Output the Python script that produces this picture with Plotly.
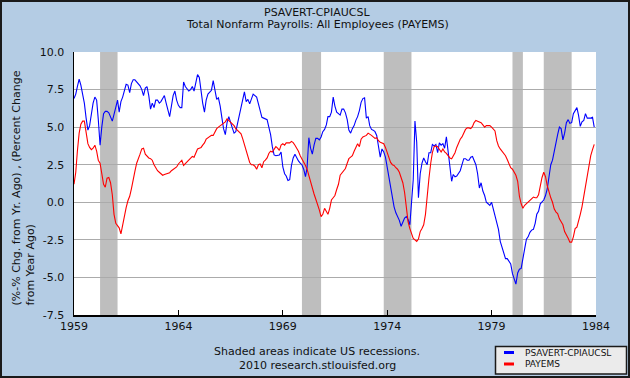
import plotly.graph_objects as go
import pandas as pd

# ---------------- data (monthly, Jan 1959 .. Dec 1983) ----------------
start_month = "1959-01-01"

psavert_cpiaucsl = [
    6.9, 7.2, 7.7, 8.2, 7.8, 7.3, 6.6, 5.6, 4.8, 5.1,
    5.9, 6.6, 7.0, 6.8, 5.5, 3.8, 5.0, 5.9, 6.05, 6.05,
    5.95, 5.7, 5.4, 5.85, 6.4, 6.8, 6.0, 6.7, 7.0, 7.5,
    7.85, 7.8, 7.3, 7.9, 8.15, 8.15, 8.0, 7.85, 7.75, 7.5,
    7.1, 7.6, 7.7, 7.1, 6.2, 6.6, 6.3, 6.8, 6.8, 6.6,
    6.7, 6.9, 7.1, 6.6, 6.1, 5.7, 6.4, 7.1, 7.4, 6.8,
    6.45, 6.3, 6.3, 8.0, 7.7, 7.5, 7.4, 7.5, 7.7, 7.4,
    7.9, 8.5, 8.3, 7.2, 6.6, 6.0, 6.8, 7.2,
    7.3, 7.45, 8.1, 7.5, 6.85, 6.95, 6.4, 5.6, 4.9, 4.5, 5.3, 5.7,
    5.25, 4.95, 4.6, 4.7, 5.25, 5.8, 6.35, 7.0, 7.35, 6.7,
    6.85, 6.55, 6.95, 7.2, 7.1, 7.0, 6.55, 6.1, 5.65, 5.6,
    5.55, 5.5, 5.0, 4.5, 3.7, 3.15, 3.1, 3.1, 3.15, 3.35,
    2.35, 1.9, 1.75, 1.45, 1.5, 2.45, 2.95, 3.2, 2.95, 2.75,
    2.6, 2.5, 2.2, 1.7, 2.3, 4.3, 3.6, 3.2, 3.8, 4.25,
    4.25, 4.15, 4.35, 4.7, 4.85, 5.15, 5.7, 5.7, 6.0, 7.0,
    6.4, 6.0, 5.9,
    5.8, 6.2, 6.2, 5.95, 5.5, 4.8, 4.6, 4.9, 5.1, 5.45,
    5.7, 6.1, 6.65, 6.9, 6.95, 5.6, 5.7, 5.1, 4.85, 4.8,
    4.7, 4.45, 3.8, 3.0, 3.55, 3.35, 3.0, 2.3, 1.6, 1.0,
    0.3, -0.3, -0.7, -0.9, -1.2, -1.6, -1.25, -1.05, -0.95, -1.15,
    -1.5, -0.3, 1.5, 5.4, 4.0, 0.3, 1.9,
    2.6, 2.95, 2.7, 2.5, 3.3, 3.3, 3.85, 3.75, 3.85, 3.3,
    3.95, 3.8, 3.9, 3.6, 4.35, 3.3, 2.4, 1.4, 1.85, 1.7,
    1.75, 1.9, 2.1, 2.5, 2.9, 2.9, 2.8, 2.8,
    3.0, 3.05, 2.8, 2.5, 1.9, 0.95, 1.3, 0.75, 0.45, 0.0,
    -0.1, -0.2, 0.0, -0.45, -0.9, -1.2, -1.8, -2.6, -3.0, -3.5,
    -3.75, -3.75, -3.9, -4.1, -4.75, -5.2, -5.45, -4.7, -4.45, -4.4,
    -3.6, -3.1, -2.45, -2.3, -2.0, -1.85, -1.8, -1.4, -0.8, -0.6,
    -0.1, 0.05, 0.15, 0.45, 0.9, 1.7, 2.5, 2.8, 3.45, 4.0,
    4.5, 5.0, 4.9, 4.15, 4.6, 5.3, 5.5, 5.25, 5.3, 5.9,
    6.1, 6.3, 5.8, 5.05, 5.35, 5.45, 5.9, 5.6, 5.6, 5.6, 5.65, 5.0,
]

payems = [
    1.2, 2.0, 3.4, 4.6, 5.2, 5.4, 5.4, 4.5, 3.9, 3.65,
    3.5, 3.6, 3.8, 3.4, 2.8, 2.6, 1.95, 1.2, 1.0, 1.6,
    1.65, 1.3, 0.5, -0.8, -1.4, -1.6, -1.7, -2.1, -1.5, -0.8,
    -0.35, 0.1, 0.4, 0.9, 1.6, 2.05, 2.6, 3.0, 3.2, 3.55,
    3.6, 3.2, 3.05, 2.95, 2.9, 2.8, 2.5, 2.27, 2.1, 2.0,
    1.93, 1.8, 1.85, 1.88, 1.9, 1.97, 2.1, 2.2, 2.27, 2.35,
    2.55, 2.7, 2.8, 2.45, 2.57, 2.7, 2.8, 2.95, 3.05, 3.0,
    3.35, 3.55, 3.6, 3.65, 3.8, 3.95, 4.2, 4.3,
    4.4, 4.45, 4.45, 4.7, 4.9, 5.0, 5.1, 5.2, 5.3, 5.35, 5.55, 5.45,
    5.35, 5.25, 5.1, 4.9, 4.8, 4.7, 4.55, 4.2, 3.8, 3.4,
    3.0, 2.65, 2.5, 2.5, 2.4, 2.2, 2.5, 2.55, 2.3, 2.7,
    2.8, 2.95, 3.25, 3.4, 3.35, 3.5, 3.7, 3.6, 3.45, 3.8,
    3.9, 3.8, 3.95, 3.95, 3.95, 4.05, 3.97, 3.8, 3.6, 3.4,
    3.1, 2.9, 2.7, 2.45, 2.2, 1.75, 1.3, 0.85, 0.55, 0.2,
    -0.1, -0.5, -0.95, -0.8, -0.4, -0.6, -0.8, -0.4, 0.15, 0.3,
    0.45, 0.85, 1.2,
    1.8, 1.95, 2.05, 2.25, 2.6, 2.9, 3.0, 3.1, 3.4, 3.7,
    3.9, 3.7, 4.2, 4.35, 4.4, 4.45, 4.6, 4.55, 4.45, 4.35,
    4.25, 4.3, 4.1, 4.0, 3.95, 3.9, 3.65, 3.3, 2.85, 2.65,
    2.5, 2.45, 2.3, 2.2, 2.0, 1.7, 1.3, 0.65, -0.4, -1.3,
    -1.75, -2.15, -2.4, -2.5, -2.6, -2.45, -1.95, -1.75, -1.5, -0.8,
    0.5, 1.6, 2.6, 3.3, 3.7, 3.75, 3.7, 3.55, 3.35, 3.55,
    3.35, 3.25, 3.1, 2.95, 2.9, 3.05, 3.3, 3.65, 3.95, 4.2,
    4.35, 4.65, 4.85, 4.95, 4.95,
    4.9, 5.05, 5.3, 5.45, 5.4, 5.35, 5.3, 5.15, 5.0, 5.1,
    5.1, 5.1, 5.0, 4.9, 4.75, 4.1, 3.75, 3.55, 3.4, 3.25,
    3.1, 2.85, 2.5, 2.3, 2.2, 2.0, 1.8, 1.4, 0.4, -0.1,
    -0.4, -0.2, -0.1, 0.0, 0.15, 0.25, 0.35, 0.3, 0.3, 0.5,
    1.1, 1.65, 2.0, 1.7, 1.1, 0.6, 0.3, 0.0, -0.45, -0.65,
    -0.75, -1.1, -1.3, -1.5, -1.95, -2.15, -2.4, -2.65, -2.65, -2.3,
    -1.75, -1.65, -1.3, -0.8, -0.3, 0.4, 1.0, 1.6, 2.5, 3.1, 3.5, 3.85,
]

recession_starts = ["1960-04-01", "1969-12-01", "1973-11-01", "1980-01-01", "1981-07-01"]
recession_ends = ["1961-02-01", "1970-11-01", "1975-03-01", "1980-07-01", "1982-11-01"]

tick_years = ["1959", "1964", "1969", "1974", "1979", "1984"]
y_ticks = [-7.5, -5.0, -2.5, 0.0, 2.5, 5.0, 7.5, 10.0]

series_names = ["PSAVERT-CPIAUCSL", "PAYEMS"]
title_lines = ["PSAVERT-CPIAUCSL", "Total Nonfarm Payrolls: All Employees (PAYEMS)"]
y_title = "(%-% Chg. from Yr. Ago) , (Percent Change<br>from Year Ago)"
footer_lines = ["Shaded areas indicate US recessions.", "2010 research.stlouisfed.org"]

# ---------------- figure ----------------
W, H = 630, 378
L, R, T, B = 74, 34, 52, 63
PW, PH = W - L - R, H - T - B


def px(x):
    return (x - L) / PW


def py(y):
    return (H - B - y) / PH


FONT = "DejaVu Sans"
TXT = "#111111"
BG = "#B4CCE4"

dates_blue = pd.date_range(start_month, periods=len(psavert_cpiaucsl), freq="MS")
dates_red = pd.date_range(start_month, periods=len(payems), freq="MS")

fig = go.Figure()
fig.add_trace(go.Scatter(x=dates_blue, y=psavert_cpiaucsl, mode="lines",
                         line=dict(color="#0000FF", width=1.1), name=series_names[0],
                         showlegend=False))
fig.add_trace(go.Scatter(x=dates_red, y=payems, mode="lines",
                         line=dict(color="#FF0000", width=1.1), name=series_names[1],
                         showlegend=False))

shapes = []
for s, e in zip(recession_starts, recession_ends):
    shapes.append(dict(type="rect", xref="x", yref="paper", x0=s, x1=e, y0=0, y1=1,
                       fillcolor="#BEBEBE", line=dict(width=0), layer="between"))

# legend box
shapes.append(dict(type="rect", xref="paper", yref="paper",
                   x0=px(495.5), x1=px(626.5), y0=py(374), y1=py(346.5),
                   fillcolor="#EBEBEB", line=dict(color="#1a1a1a", width=1.5)))
shapes.append(dict(type="line", xref="paper", yref="paper",
                   x0=px(504), x1=px(514), y0=py(352.5), y1=py(352.5),
                   line=dict(color="#0000FF", width=3)))
shapes.append(dict(type="line", xref="paper", yref="paper",
                   x0=px(504), x1=px(514), y0=py(364), y1=py(364),
                   line=dict(color="#FF0000", width=3)))
# outer border
shapes.append(dict(type="rect", xref="paper", yref="paper",
                   x0=px(1), x1=px(629), y0=py(377), y1=py(1),
                   line=dict(color="#1a1a1a", width=2)))

annotations = [
    dict(text=title_lines[0], x=px(317), y=py(12), xref="paper", yref="paper",
         showarrow=False, font=dict(family=FONT, size=11, color=TXT),
         xanchor="center", yanchor="middle"),
    dict(text=title_lines[1], x=px(317), y=py(25), xref="paper", yref="paper",
         showarrow=False, font=dict(family=FONT, size=11, color=TXT),
         xanchor="center", yanchor="middle"),
    dict(text=y_title, x=px(23), y=py(308), xref="paper", yref="paper",
         showarrow=False, textangle=-90, align="left",
         font=dict(family=FONT, size=11, color=TXT),
         xanchor="center", yanchor="bottom"),
    dict(text=footer_lines[0], x=px(317), y=py(351), xref="paper", yref="paper",
         showarrow=False, font=dict(family=FONT, size=11, color=TXT),
         xanchor="center", yanchor="middle"),
    dict(text=footer_lines[1], x=px(317), y=py(365), xref="paper", yref="paper",
         showarrow=False, font=dict(family=FONT, size=11, color=TXT),
         xanchor="center", yanchor="middle"),
    dict(text=series_names[0], x=px(523), y=py(352.5), xref="paper", yref="paper",
         showarrow=False, font=dict(family=FONT, size=9, color=TXT),
         xanchor="left", yanchor="middle"),
    dict(text=series_names[1], x=px(523), y=py(364), xref="paper", yref="paper",
         showarrow=False, font=dict(family=FONT, size=9, color=TXT),
         xanchor="left", yanchor="middle"),
]

fig.update_layout(
    width=W, height=H, autosize=False,
    margin=dict(l=L, r=R, t=T, b=B, pad=0),
    paper_bgcolor=BG, plot_bgcolor="#FFFFFF",
    showlegend=False, hovermode=False,
    shapes=shapes, annotations=annotations,
    font=dict(family=FONT, size=11, color=TXT),
)
fig.update_xaxes(
    type="date", range=["1959-01-01", "1984-01-01"],
    tickvals=[f"{y}-01-01" for y in tick_years], ticktext=tick_years,
    ticks="inside", ticklen=5, tickcolor="#000000", tickwidth=1,
    showline=True, linecolor="#000000", linewidth=1.5,
    showgrid=False, zeroline=False,
    tickfont=dict(family=FONT, size=11, color=TXT),
)
fig.update_yaxes(
    range=[-7.5, 10.0], tickvals=y_ticks, ticktext=[f"{v:.1f}" for v in y_ticks],
    ticks="outside", ticklen=6, tickcolor="rgba(0,0,0,0)",
    showline=True, linecolor="#000000", linewidth=1.5,
    showgrid=True, gridcolor="#ABABAB", gridwidth=1, zeroline=False,
    tickfont=dict(family=FONT, size=11, color=TXT),
)

fig.write_html(
    "out.html",
    config={"displayModeBar": False, "staticPlot": True},
    post_script="document.body.style.margin='0';document.body.style.overflow='hidden';",
)
